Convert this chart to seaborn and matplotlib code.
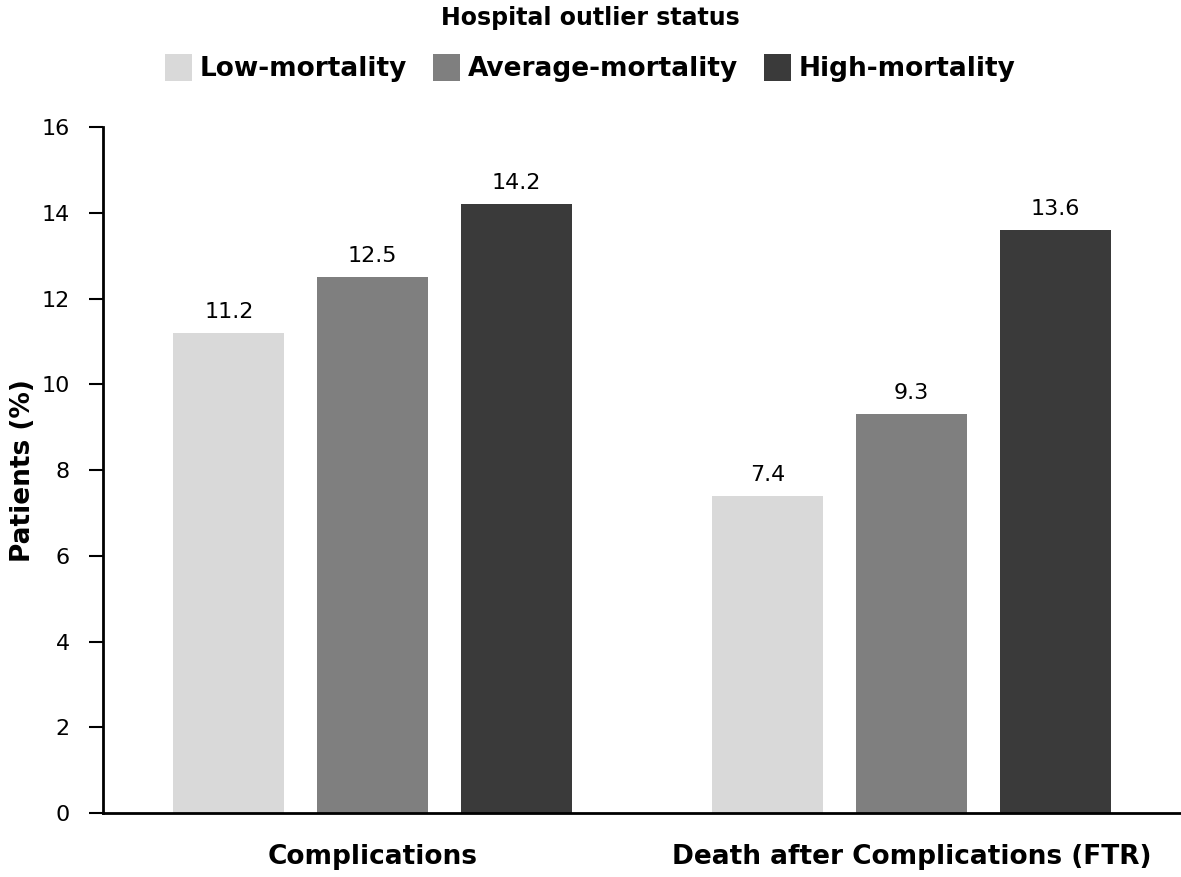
import pandas as pd
import seaborn as sns
import matplotlib.pyplot as plt
from matplotlib.patches import Patch

# data
categories = ["Complications", "Death after Complications (FTR)"]
statuses = ["Low-mortality", "Average-mortality", "High-mortality"]
low_vals = [11.2, 7.4]
avg_vals = [12.5, 9.3]
high_vals = [14.2, 13.6]
colors = ["#d9d9d9", "#7f7f7f", "#3a3a3a"]

df = pd.DataFrame({
    "Outcome": categories * 3,
    "Status": [s for s in statuses for _ in categories],
    "Patients": low_vals + avg_vals + high_vals,
})

sns.set_style("white")
plt.rcParams["text.color"] = "black"
plt.rcParams["axes.labelcolor"] = "black"
plt.rcParams["xtick.color"] = "black"
plt.rcParams["ytick.color"] = "black"

fig = plt.figure(figsize=(11.81, 8.77), dpi=100)
ax = fig.add_axes([0.0872, 0.073, 0.9128, 0.782])

sns.barplot(data=df, x="Outcome", y="Patients", hue="Status", hue_order=statuses,
            palette=colors, gap=0.23, width=0.8, ax=ax, legend=False,
            edgecolor="none", linewidth=0, saturation=1)

for cont in ax.containers:
    ax.bar_label(cont, fmt="%.1f", padding=8, fontsize=16, color="black")

ax.set_ylim(0, 16)
ax.set_yticks(range(0, 17, 2))
ax.tick_params(axis="y", direction="out", length=10, width=1.5, labelsize=16, pad=14, left=True)
ax.tick_params(axis="x", length=0, pad=22)
for lab in ax.get_xticklabels():
    lab.set_fontsize(19)
    lab.set_fontweight("bold")
ax.set_xlabel("")
ax.set_ylabel("Patients (%)", fontsize=19, fontweight="bold", labelpad=4)

for side in ["top", "right"]:
    ax.spines[side].set_visible(False)
for side in ["left", "bottom"]:
    ax.spines[side].set_linewidth(2)
    ax.spines[side].set_color("black")

fig.text(0.5, 1 - 18 / 877, "Hospital outlier status", ha="center", va="center",
         fontsize=17, fontweight="bold")
handles = [Patch(facecolor=c, edgecolor="none") for c in colors]
fig.legend(handles, statuses, loc="center", bbox_to_anchor=(0.5, 1 - 68 / 877), ncol=3,
           frameon=False, prop={"weight": "bold", "size": 19},
           handlelength=1.0, handleheight=1.2, handletextpad=0.3, columnspacing=1.0)

fig.savefig("out.png", dpi=100)
